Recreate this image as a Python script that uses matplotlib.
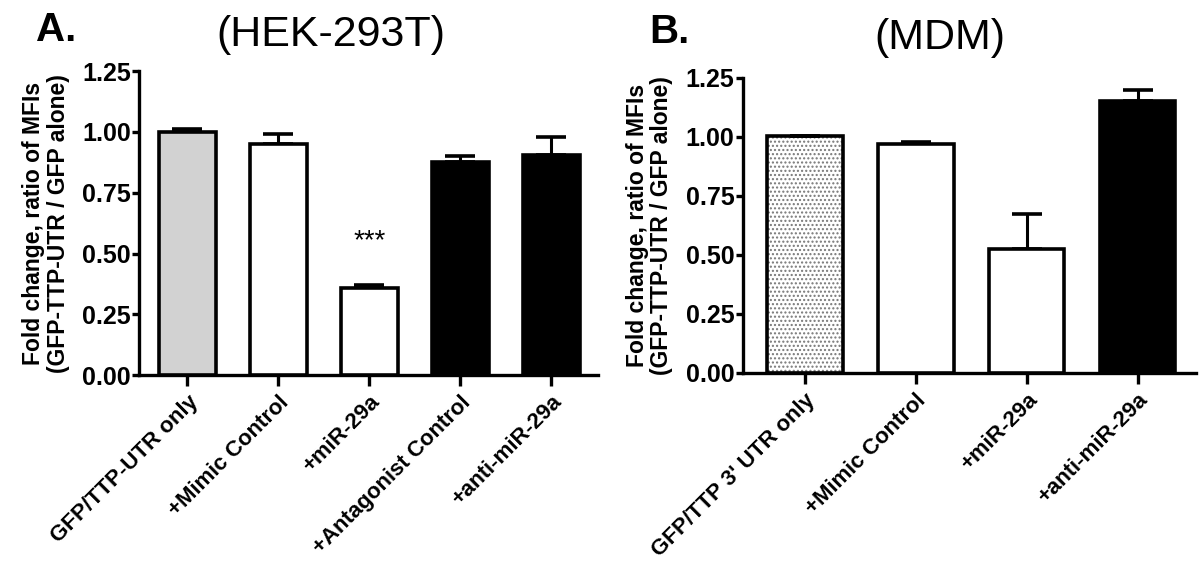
import numpy as np
import matplotlib
matplotlib.use("Agg")
import matplotlib.pyplot as plt

plt.rcParams['font.family'] = ['Liberation Sans', 'DejaVu Sans']

# panel A (HEK-293T)
labels_a = ["GFP/TTP-UTR only", "+Mimic Control", "+miR-29a",
            "+Antagonist Control", "+anti-miR-29a"]
means_a = [1.00, 0.951, 0.357, 0.875, 0.906]
errs_a = [0.011, 0.040, 0.014, 0.025, 0.074]
faces_a = ["#d2d2d2", "white", "white", "black", "black"]

# panel B (MDM)
labels_b = ["GFP/TTP 3' UTR only", "+Mimic Control", "+miR-29a", "+anti-miR-29a"]
means_b = [1.003, 0.972, 0.525, 1.154]
errs_b = [0.0, 0.007, 0.149, 0.044]
faces_b = ["none", "white", "white", "black"]

yticks = [0.00, 0.25, 0.50, 0.75, 1.00, 1.25]
ylab = "Fold change, ratio of MFIs\n(GFP-TTP-UTR / GFP alone)"

fig = plt.figure(figsize=(12, 5.65), dpi=100)
ax_a = fig.add_axes([0.116, 0.336, 0.382, 0.538])
ax_b = fig.add_axes([0.619, 0.340, 0.378, 0.522])


def draw_panel(ax, labels, means, errs, faces, width, dotted_first):
    x = np.arange(len(labels))
    if dotted_first:
        ax.bar(x[0], means[0], width, color="white", edgecolor="#777777",
               hatch="....", linewidth=0, zorder=2)
    ax.bar(x, means, width, color=faces, edgecolor="black", linewidth=2.6, zorder=3)
    ax.errorbar(x, means, yerr=[np.zeros(len(errs)), errs], fmt="none",
                ecolor="black", elinewidth=2.2, capsize=11, capthick=2.6, zorder=2)
    ax.set_ylim(0, 1.25)
    ax.set_yticks(yticks)
    ax.set_yticklabels([f"{v:.2f}" for v in yticks], fontsize=18, fontweight="bold")
    ax.set_xticks(x)
    ax.set_xticklabels(labels, rotation=45, ha="right", rotation_mode="anchor",
                       fontsize=16, fontweight="bold")
    ax.spines["top"].set_visible(False)
    ax.spines["right"].set_visible(False)
    for s in ("left", "bottom"):
        ax.spines[s].set_linewidth(2.4)
    ax.spines["left"].set_bounds(0, 1.25)
    ax.tick_params(axis="y", width=2.4, length=5, direction="out", pad=1)
    ax.tick_params(axis="x", width=2.4, length=8, direction="out", pad=4)
    ax.set_ylabel(ylab, fontsize=16.5, fontweight="bold", labelpad=9, linespacing=1.08)


draw_panel(ax_a, labels_a, means_a, errs_a, faces_a, 0.63, False)
ax_a.set_xlim(-0.53, 4.51)
ax_a.text(2, 0.55, "***", ha="center", va="center", fontsize=20)

draw_panel(ax_b, labels_b, means_b, errs_b, faces_b, 0.68, True)
ax_b.set_xlim(-0.56, 3.53)

fig.text(0.047, 0.947, "A.", fontsize=29, fontweight="bold", ha="center", va="center")
fig.text(0.276, 0.938, "(HEK-293T)", fontsize=31, ha="center", va="center")
fig.text(0.558, 0.943, "B.", fontsize=29, fontweight="bold", ha="center", va="center")
fig.text(0.783, 0.932, "(MDM)", fontsize=31, ha="center", va="center")

fig.savefig("out.png", dpi=100)
